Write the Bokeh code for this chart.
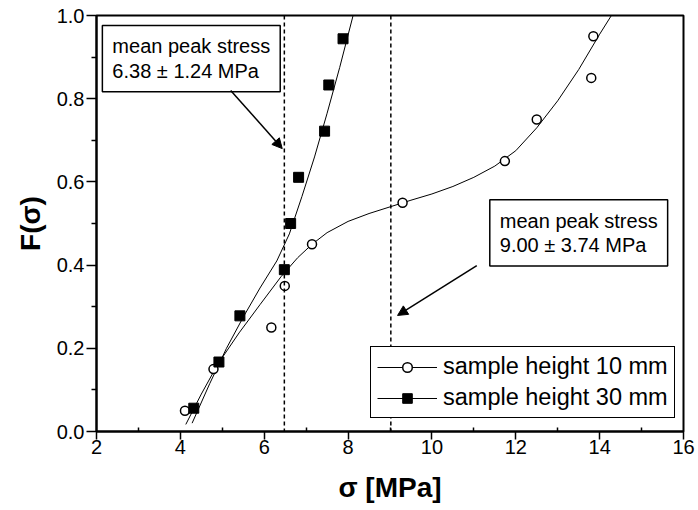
from bokeh.plotting import figure
from bokeh.models import (Range1d, FixedTicker, NumeralTickFormatter, Span, Label,
                          Arrow, NormalHead, Legend, LegendItem, ColumnDataSource)
from bokeh.embed import file_html
from bokeh.resources import INLINE

# ---- data ----
sigma_10 = [4.11, 4.79, 6.17, 6.49, 7.14, 9.30, 11.74, 12.50, 13.80, 13.85]
F_10 = [0.05, 0.15, 0.25, 0.35, 0.45, 0.55, 0.65, 0.75, 0.85, 0.95]

sigma_30 = [4.32, 4.92, 5.42, 6.48, 6.63, 6.82, 7.44, 7.54, 7.88]
F_30 = [0.056, 0.167, 0.278, 0.389, 0.500, 0.611, 0.722, 0.833, 0.944]

fit_sigma_10 = [4.13, 4.50, 4.90, 5.40, 5.90, 6.40, 6.80, 7.14, 7.50, 8.00, 8.50,
                9.00, 9.50, 10.00, 10.50, 11.00, 11.50, 12.00, 12.50, 13.00,
                13.50, 14.00, 14.28]
fit_F_10 = [0.017, 0.090, 0.163, 0.237, 0.305, 0.372, 0.418, 0.450, 0.478, 0.505,
            0.524, 0.540, 0.556, 0.571, 0.589, 0.611, 0.638, 0.675, 0.730, 0.795,
            0.870, 0.955, 1.000]

fit_sigma_30 = [4.28, 4.70, 5.10, 5.50, 5.90, 6.30, 6.60, 6.90, 7.20, 7.50, 7.80, 8.12]
fit_F_30 = [0.020, 0.115, 0.200, 0.275, 0.345, 0.410, 0.475, 0.565, 0.660, 0.765,
            0.875, 1.000]

peak_stress = [6.48, 9.02]
peak_text = ["mean peak stress\n6.38 \u00b1 1.24 MPa", "mean peak stress\n9.00 \u00b1 3.74 MPa"]
series_names = ["sample height 10 mm", "sample height 30 mm"]

x_ticks = [2, 4, 6, 8, 10, 12, 14, 16]
x_minor = [3, 5, 7, 9, 11, 13, 15]
y_ticks = [0.0, 0.2, 0.4, 0.6, 0.8, 1.0]
y_minor = [0.1, 0.3, 0.5, 0.7, 0.9]

FONT = "Liberation Sans"

p = figure(width=698, height=510, x_range=Range1d(2, 16), y_range=Range1d(0, 1.0),
           output_backend="svg", toolbar_location=None,
           min_border_left=96, min_border_right=15, min_border_top=15,
           min_border_bottom=79)
p.grid.visible = False
p.background_fill_color = "white"
p.border_fill_color = "white"
p.outline_line_color = "black"
p.outline_line_width = 2
p.outline_line_alpha = 1.0

for ax in (p.xaxis[0], p.yaxis[0]):
    ax.axis_line_width = 2
    ax.axis_line_color = "black"
    ax.major_tick_line_width = 1.5
    ax.minor_tick_line_width = 1.5
    ax.major_tick_line_color = "black"
    ax.minor_tick_line_color = "black"
    ax.major_label_text_font = FONT
    ax.major_label_text_font_size = "20px"
    ax.major_label_text_color = "black"
    ax.axis_label_text_font = FONT
    ax.axis_label_text_font_style = "bold"
    ax.axis_label_text_font_size = "28px"
    ax.axis_label_text_color = "black"

p.xaxis.ticker = FixedTicker(ticks=x_ticks, minor_ticks=x_minor)
p.yaxis.ticker = FixedTicker(ticks=y_ticks, minor_ticks=y_minor)
p.yaxis.formatter = NumeralTickFormatter(format="0.0")
p.xaxis.major_tick_out = 8
p.xaxis.major_tick_in = 0
p.xaxis.minor_tick_out = 0
p.xaxis.minor_tick_in = 4
p.yaxis.major_tick_out = 10
p.yaxis.major_tick_in = 0
p.yaxis.minor_tick_out = 5
p.yaxis.minor_tick_in = 0
p.xaxis.major_label_standoff = 0
p.yaxis.major_label_standoff = 2
p.xaxis.axis_label = "\u03c3 [MPa]"
p.yaxis.axis_label = "F(\u03c3)"
p.xaxis.axis_label_standoff = 15
p.yaxis.axis_label_standoff = 8

# peak stress lines
for xv in peak_stress:
    p.add_layout(Span(location=xv, dimension="height", line_color="black",
                      line_width=1.5, line_dash="4 3"))

src10 = ColumnDataSource(dict(x=sigma_10, y=F_10))
src30 = ColumnDataSource(dict(x=sigma_30, y=F_30))
fit10 = ColumnDataSource(dict(x=fit_sigma_10, y=fit_F_10))
fit30 = ColumnDataSource(dict(x=fit_sigma_30, y=fit_F_30))

l10 = p.line("x", "y", source=fit10, line_color="black", line_width=1)
l30 = p.line("x", "y", source=fit30, line_color="black", line_width=1)
s10 = p.scatter("x", "y", source=src10, marker="circle", size=9,
                fill_color="white", line_color="black", line_width=1.5)
s30 = p.scatter("x", "y", source=src30, marker="square", size=10,
                fill_color="black", line_color="black", line_width=1)

# annotation boxes (top-left corner of each box)
label_pos = [(2.14, 0.976), (11.38, 0.557)]
for (lx, ly), txt in zip(label_pos, peak_text):
    p.add_layout(Label(x=lx, y=ly, text=txt, text_font=FONT, text_font_size="20px",
                       text_color="black", text_align="left", text_baseline="top",
                       text_line_height=1.1, padding=10,
                       background_fill_color="white", background_fill_alpha=1.0,
                       border_line_color="black", border_line_width=1.5))

arrows = [((5.2, 0.82), (6.43, 0.68)), ((11.07, 0.399), (9.18, 0.279))]
for (x0, y0), (x1, y1) in arrows:
    p.add_layout(Arrow(end=NormalHead(size=10, fill_color="black", line_color="black",
                                      line_width=1),
                       x_start=x0, y_start=y0, x_end=x1, y_end=y1,
                       line_color="black", line_width=1.5))

legend = Legend(items=[LegendItem(label=series_names[0], renderers=[l10, s10]),
                       LegendItem(label=series_names[1], renderers=[l30, s30])],
                location=(274, 13), orientation="vertical",
                label_text_font=FONT, label_text_font_size="23.5px",
                label_text_color="black",
                glyph_width=60, glyph_height=24, label_height=26,
                label_standoff=6, spacing=4, padding=6, margin=0,
                border_line_color="black", border_line_width=1.5, border_line_alpha=1.0,
                background_fill_color="white", background_fill_alpha=1.0)
p.add_layout(legend)

open("out.html", "w").write(file_html(p, INLINE))
